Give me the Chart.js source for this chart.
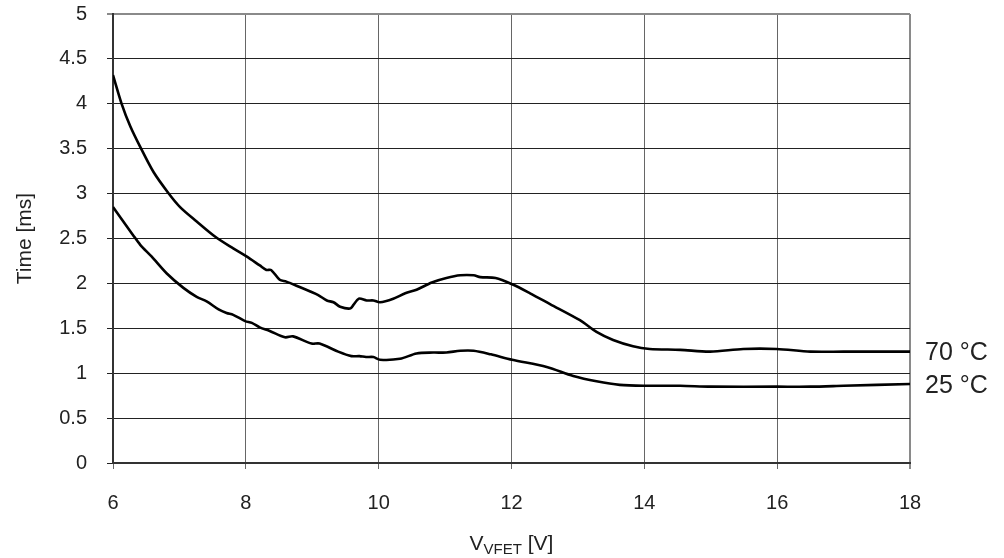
<!DOCTYPE html>
<html>
<head>
<meta charset="utf-8">
<script src="https://cdn.jsdelivr.net/npm/chart.js@4.4.0/dist/chart.umd.min.js"></script>
<style>
  html, body { margin: 0; padding: 0; background: #fff; }
  #wrap { width: 1004px; height: 558px; }
</style>
</head>
<body>
<div id="wrap"><canvas id="c" width="1004" height="558"></canvas></div>
<script>
// ---- data ----
const seriesNames = ['70 °C', '25 °C'];
const vfet70 = [6.0, 6.13, 6.26, 6.41, 6.61, 6.83, 7.01, 7.26, 7.54, 7.81, 8.01, 8.21, 8.31, 8.38, 8.51, 8.61, 8.81, 8.97, 9.09, 9.22, 9.32, 9.42, 9.57, 9.62, 9.70, 9.82, 9.92, 10.02, 10.22, 10.40, 10.57, 10.80, 11.02, 11.23, 11.43, 11.53, 11.76, 12.01, 12.28, 12.58, 13.03, 13.28, 13.53, 13.83, 14.08, 14.54, 14.99, 15.49, 15.99, 16.50, 17.0, 17.5, 18.0];
const time70 = [4.32, 4.0, 3.75, 3.52, 3.24, 3.01, 2.85, 2.69, 2.52, 2.39, 2.30, 2.20, 2.15, 2.15, 2.04, 2.02, 1.96, 1.91, 1.87, 1.81, 1.79, 1.74, 1.72, 1.76, 1.83, 1.81, 1.81, 1.79, 1.83, 1.89, 1.93, 2.01, 2.06, 2.09, 2.09, 2.07, 2.06, 1.99, 1.89, 1.77, 1.59, 1.46, 1.37, 1.30, 1.27, 1.26, 1.24, 1.27, 1.27, 1.24, 1.24, 1.24, 1.24];
const vfet25 = [6.0, 6.30, 6.41, 6.58, 6.81, 7.06, 7.26, 7.41, 7.59, 7.71, 7.81, 7.99, 8.09, 8.21, 8.36, 8.59, 8.71, 8.99, 9.11, 9.39, 9.59, 9.71, 9.81, 9.92, 10.02, 10.32, 10.57, 10.82, 11.02, 11.23, 11.43, 11.69, 12.01, 12.53, 12.93, 13.28, 13.63, 14.04, 14.54, 15.0, 16.0, 16.5, 17.0, 18.0];
const time25 = [2.85, 2.54, 2.43, 2.30, 2.11, 1.95, 1.85, 1.80, 1.71, 1.67, 1.65, 1.58, 1.56, 1.51, 1.47, 1.40, 1.41, 1.33, 1.33, 1.24, 1.19, 1.19, 1.18, 1.18, 1.15, 1.16, 1.22, 1.23, 1.23, 1.25, 1.25, 1.21, 1.15, 1.07, 0.97, 0.91, 0.87, 0.86, 0.86, 0.85, 0.85, 0.85, 0.86, 0.88];
const xTicks = [6, 8, 10, 12, 14, 16, 18];
const yTickLabels = ['0', '0.5', '1', '1.5', '2', '2.5', '3', '3.5', '4', '4.5', '5'];
const yTitle = 'Time [ms]';
const xTitleMain = 'V', xTitleSub = 'VFET', xTitleUnit = ' [V]';

const FONT = "'Liberation Sans', Arial, sans-serif";
const TXT = '#222';

function toPoints(xs, ys) { return xs.map((x, i) => ({ x: x, y: ys[i] })); }

const endLabels = {
  id: 'endLabels',
  afterDatasetsDraw(chart) {
    const ctx = chart.ctx;
    ctx.save();
    ctx.fillStyle = TXT;
    ctx.font = '25px ' + FONT;
    ctx.textAlign = 'left';
    ctx.textBaseline = 'middle';
    chart.data.datasets.forEach((ds, i) => {
      const meta = chart.getDatasetMeta(i);
      const last = meta.data[meta.data.length - 1];
      ctx.fillText(ds.label, last.x + 15, last.y + (i === 1 ? 2 : 1));
    });
    ctx.restore();
  }
};

const xTitle = {
  id: 'xTitle',
  afterDraw(chart) {
    const ctx = chart.ctx;
    const ca = chart.chartArea;
    const cx = (ca.left + ca.right) / 2;
    const baseY = 550;
    ctx.save();
    ctx.fillStyle = TXT;
    ctx.textBaseline = 'alphabetic';
    ctx.textAlign = 'left';
    ctx.font = '21px ' + FONT;
    const wV = ctx.measureText(xTitleMain).width;
    const wU = ctx.measureText(xTitleUnit).width;
    ctx.font = '15px ' + FONT;
    const wS = ctx.measureText(xTitleSub).width;
    let x = cx - (wV + wS + wU) / 2;
    ctx.font = '21px ' + FONT;
    ctx.fillText(xTitleMain, x, baseY); x += wV;
    ctx.font = '15px ' + FONT;
    ctx.fillText(xTitleSub, x, baseY + 4); x += wS;
    ctx.font = '21px ' + FONT;
    ctx.fillText(xTitleUnit, x, baseY);
    ctx.restore();
  }
};

new Chart(document.getElementById('c'), {
  type: 'line',
  data: {
    datasets: [
      { label: seriesNames[0], data: toPoints(vfet70, time70), borderColor: '#000', borderWidth: 2.6, pointRadius: 0, tension: 0.3, fill: false },
      { label: seriesNames[1], data: toPoints(vfet25, time25), borderColor: '#000', borderWidth: 2.6, pointRadius: 0, tension: 0.3, fill: false }
    ]
  },
  options: {
    responsive: false,
    animation: false,
    layout: { padding: { left: 0, right: 94, top: 14, bottom: 0 } },
    plugins: { legend: { display: false }, tooltip: { enabled: false } },
    scales: {
      x: {
        type: 'linear', min: 6, max: 18,
        afterBuildTicks(scale) { scale.ticks = xTicks.map(v => ({ value: v })); },
        afterFit(scale) { scale.height = 95; scale.paddingLeft = 0; scale.paddingRight = 0; },
        ticks: { color: TXT, font: { family: FONT, size: 20 }, padding: 22, callback: v => String(v) },
        grid: {
          color: c => (c.tick && c.tick.value === 18) ? '#8a8a8a' : '#666',
          lineWidth: c => (c.tick && c.tick.value === 18) ? 2 : 1,
          tickLength: 6
        },
        border: { display: true, color: '#333', width: 2 }
      },
      y: {
        type: 'linear', min: 0, max: 5,
        afterBuildTicks(scale) { scale.ticks = yTickLabels.map(s => ({ value: parseFloat(s) })); },
        afterFit(scale) { scale.width = 113; scale.paddingTop = 0; scale.paddingBottom = 0; },
        ticks: { color: TXT, font: { family: FONT, size: 20 }, padding: 20, callback: (v, i) => yTickLabels[i] },
        title: { display: true, text: yTitle, color: TXT, font: { family: FONT, size: 21 }, padding: { top: 13, bottom: 0 } },
        grid: {
          color: c => (c.tick && c.tick.value === 5) ? '#8a8a8a' : '#222',
          lineWidth: c => (c.tick && c.tick.value === 5) ? 2 : 1,
          tickLength: 6
        },
        border: { display: true, color: '#333', width: 2 }
      }
    }
  },
  plugins: [endLabels, xTitle]
});
</script>
</body>
</html>
